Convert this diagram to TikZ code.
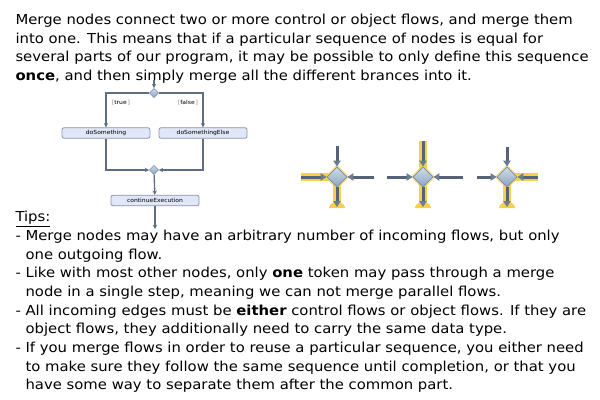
\documentclass[tikz,border=0pt]{standalone}
\usepackage{fontspec}
\setmainfont{DejaVu Sans}[FakeStretch=1.08]
\usetikzlibrary{shapes.geometric,arrows.meta}

\definecolor{flowGray}{RGB}{96,110,130}
\definecolor{thickFlow}{RGB}{86,99,118}
\definecolor{tipGray}{RGB}{108,124,146}
\definecolor{actFill}{RGB}{225,231,247}
\definecolor{actDraw}{RGB}{136,148,174}
\definecolor{mergeTop}{RGB}{208,221,235}
\definecolor{mergeBottom}{RGB}{138,163,190}
\definecolor{mergeDraw}{RGB}{120,140,166}
\definecolor{glowYellow}{RGB}{246,208,76}
\definecolor{guardGray}{RGB}{140,140,140}

\tikzset{every picture/.style={line width=0.75pt},
  flow/.style={draw=flowGray, line width=1pt, -{Stealth[length=3.2pt,width=3.2pt]}},
  actbox/.style={rectangle, rounded corners=1.5pt, draw=actDraw, fill=actFill, line width=0.6pt,
    minimum width=66pt, minimum height=7.9pt, inner sep=0pt, font=\fontsize{4.2}{5}\selectfont},
  smallmerge/.style={diamond, minimum width=7pt, minimum height=7pt, inner sep=0pt,
    top color=mergeTop, bottom color=mergeBottom, draw=mergeDraw, line width=0.4pt},
  guard/.style={font=\fontsize{4.2}{5}\selectfont, inner sep=0pt},
  bigmerge/.style={diamond, minimum width=15pt, minimum height=15pt, inner sep=0pt,
    top color=mergeTop, bottom color=mergeBottom, draw=mergeDraw, line width=0.6pt},
  halo/.style={diamond, minimum width=19pt, minimum height=19pt, inner sep=0pt,
    fill=glowYellow, opacity=0.7},
  thick flow/.style={draw=thickFlow, line width=2.25pt, -{Triangle[length=4.5pt,width=5.5pt,color=tipGray]}},
  glow/.style={draw=glowYellow, line width=6pt},
  textblock/.style={anchor=north west, align=left, inner sep=0pt, font=\fontsize{10.3}{14}\selectfont}
}

\begin{document}
\begin{tikzpicture}[x=0.75pt,y=0.75pt,yscale=-1,xscale=1]
	\useasboundingbox (0,0) rectangle (600,400);

	% Text Node
	\node[textblock] (intro) at (15,13.6) {Merge nodes connect two or more control or object flows, and merge them\\
	into one. This means that if a particular sequence of nodes is equal for\\
	several parts of our program, it may be possible to only define this sequence\\
	\textbf{once}, and then simply merge all the different brances into it.};

	%Shape: Decision
	\coordinate (start) at (154,80);
	\node[smallmerge] (decision) at (154,93) {};
	% Text Node
	\node[actbox] (doSomething) at (106,133) {doSomething};
	\node[actbox] (doSomethingElse) at (203,133) {doSomethingElse};
	\node[smallmerge] (merge) at (154,170) {};
	\node[actbox] (continueExecution) at (155,200.5) {continueExecution};
	\coordinate (end) at (155,229);
	% Text Node
	\node[guard] (guardTrue) at (121,103) {\textcolor{guardGray}{[}true\,\textcolor{guardGray}{]}};
	\node[guard] (guardFalse) at (188,103) {\textcolor{guardGray}{[}false\,\textcolor{guardGray}{]}};

	%Straight Lines
	\draw[flow] (start) -- (decision);
	\draw[flow] (decision) -| (doSomething);
	\draw[flow] (decision) -| (doSomethingElse);
	\draw[flow] (doSomething) |- (merge);
	\draw[flow] (doSomethingElse) |- (merge);
	\draw[flow] (merge) -- (continueExecution);
	\draw[flow] (continueExecution) -- (end);

	%Shape: Merge with highlighted flows (left in, out)
	\coordinate (cA) at (337,177);
	\coordinate (topA) at (337,146);
	\coordinate (leftA) at (301,177);
	\coordinate (rightA) at (374,177);
	\coordinate (outA) at (337,207);
	\draw[glow] (leftA) -- (cA) -- (outA);
	\fill[glowYellow] (329,208) arc[start angle=180,end angle=360,x radius=8,y radius=6] -- cycle;
	\node[halo] (haloA) at (cA) {};
	\node[bigmerge] (mA) at (cA) {};
	\draw[thick flow] (topA) -- (mA);
	\draw[thick flow] (leftA) -- (mA);
	\draw[thick flow] (rightA) -- (mA);
	\draw[thick flow] (mA) -- (outA);

	%Shape: Merge with highlighted flows (top in, out)
	\coordinate (cB) at (423,177);
	\coordinate (topB) at (423,141);
	\coordinate (leftB) at (387,177);
	\coordinate (rightB) at (463,177);
	\coordinate (outB) at (423,207);
	\draw[glow] (topB) -- (cB) -- (outB);
	\fill[glowYellow] (415,208) arc[start angle=180,end angle=360,x radius=8,y radius=6] -- cycle;
	\node[halo] (haloB) at (cB) {};
	\node[bigmerge] (mB) at (cB) {};
	\draw[thick flow] (topB) -- (mB);
	\draw[thick flow] (leftB) -- (mB);
	\draw[thick flow] (rightB) -- (mB);
	\draw[thick flow] (mB) -- (outB);

	%Shape: Merge with highlighted flows (right in, out)
	\coordinate (cC) at (507,177);
	\coordinate (topC) at (507,147);
	\coordinate (leftC) at (477,177);
	\coordinate (rightC) at (538,177);
	\coordinate (outC) at (507,207);
	\draw[glow] (rightC) -- (cC) -- (outC);
	\fill[glowYellow] (499,208) arc[start angle=180,end angle=360,x radius=8,y radius=6] -- cycle;
	\node[halo] (haloC) at (cC) {};
	\node[bigmerge] (mC) at (cC) {};
	\draw[thick flow] (topC) -- (mC);
	\draw[thick flow] (leftC) -- (mC);
	\draw[thick flow] (rightC) -- (mC);
	\draw[thick flow] (mC) -- (outC);

	% Text Node
	\node[textblock] (tips) at (15,210.8) {\underline{Tips:}\\
	- Merge nodes may have an arbitrary number of incoming flows, but only\\
	\phantom{- }one outgoing flow.\\
	- Like with most other nodes, only \textbf{one} token may pass through a merge\\
	\phantom{- }node in a single step, meaning we can not merge parallel flows.\\
	- All incoming edges must be \textbf{either} control flows or object flows. If they are\\
	\phantom{- }object flows, they additionally need to carry the same data type.\\
	- If you merge flows in order to reuse a particular sequence, you either need\\
	\phantom{- }to make sure they follow the same sequence until completion, or that you\\
	\phantom{- }have some way to separate them after the common part.};

\end{tikzpicture}
\end{document}
